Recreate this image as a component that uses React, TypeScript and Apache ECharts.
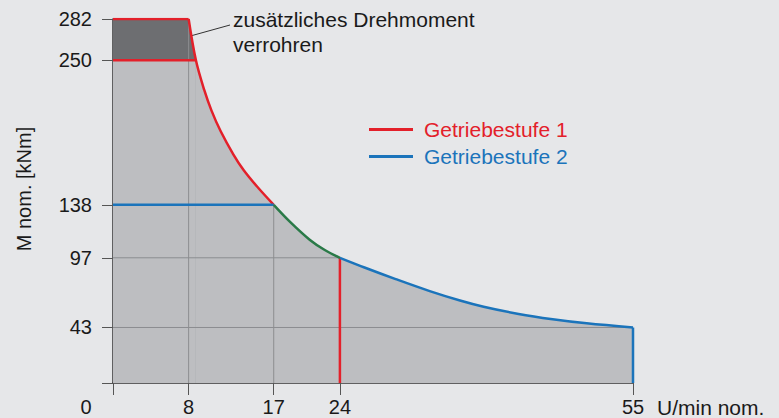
import React, { useEffect, useRef } from "react";
import * as echarts from "echarts";

// Axis ticks / labels
const xTicks = [0, 8, 17, 24, 55];
const yTicks = [0, 43, 97, 138, 250, 282];
const yLabels = [43, 97, 138, 250, 282];

// Torque limits (x: U/min nom., y: M nom. kNm)
const boostTop: number[][] = [[0, 282], [8, 282], [8.77, 250]];
const gear1Base: number[][] = [[0, 250], [8.77, 250]];
const gear1Curve: number[][] = [
  [8, 282], [8.77, 250], [9.65, 227], [10.42, 211], [11.39, 195],
  [12.74, 177], [13.81, 165], [15.26, 152], [17, 138],
];
const overlapCurve: number[][] = [[17, 138], [18.7, 125], [20.8, 111], [22.4, 103], [24, 97]];
const gear2Curve: number[][] = [
  [24, 97], [26.6, 89.5], [29.9, 80.5], [33.5, 71.2], [36.7, 63.9],
  [39.2, 59.1], [42.9, 53.5], [46.5, 49.4], [50.1, 46.2], [55, 43],
];
const gear1Limit: number[][] = [[24, 0], [24, 97]];
const gear2Base: number[][] = [[0, 138], [17, 138]];
const gear2Limit: number[][] = [[55, 43], [55, 0]];
const guideLines: number[][][] = [
  [[8, 0], [8, 282]],
  [[17, 0], [17, 138]],
  [[0, 43], [55, 43]],
  [[0, 97], [24, 97]],
];
const leaderFrom = [6.8, 266];

const BG = "#e6e7e9";
const LIGHT = "#bdbec1";
const DARK = "#6d6e71";
const RED = "#e3202a";
const BLUE = "#1b74bb";
const GREEN = "#2a7a48";
const GRID = "#8c8d90";
const FONT = "Liberation Sans, Arial, sans-serif";

export default function App() {
  const ref = useRef<HTMLDivElement>(null);
  useEffect(() => {
    document.body.style.margin = "0";
    document.body.style.background = BG;
    const chart = echarts.init(ref.current!, null, { renderer: "svg" });
    const line = (name: string, data: number[][], color: string, width: number, extra: any = {}) => ({
      type: "line",
      name,
      data,
      symbol: "none",
      showSymbol: false,
      silent: true,
      lineStyle: { color, width },
      itemStyle: { color },
      ...extra,
    });
    const smooth = { smooth: 0.35 };
    const lightCurve = [...gear1Curve.slice(1), ...overlapCurve.slice(1), ...gear2Curve.slice(1)];
    const series: any[] = [
      line("area-dark", boostTop, DARK, 0, { areaStyle: { color: DARK, opacity: 1 } }),
      line("area-light-base", gear1Base, LIGHT, 0, { areaStyle: { color: LIGHT, opacity: 1 } }),
      line("area-light-curve", lightCurve, LIGHT, 0, { areaStyle: { color: LIGHT, opacity: 1 }, ...smooth }),
      ...guideLines.map((g, i) => line("guide" + i, g, GRID, 1)),
      line("Getriebestufe 1", gear1Curve, RED, 2.5, smooth),
      line("Getriebestufe 1", boostTop.slice(0, 2), RED, 2.5),
      line("Getriebestufe 1", gear1Base, RED, 2.5),
      line("Getriebestufe 1", gear1Limit, RED, 2.5),
      line("Getriebestufe 2", gear2Base, BLUE, 2.5),
      line("Getriebestufe 2", gear2Curve, BLUE, 2.5, smooth),
      line("Getriebestufe 2", gear2Limit, BLUE, 2.5),
      line("overlap", overlapCurve, GREEN, 2.5, smooth),
    ];
    chart.setOption({
      animation: false,
      backgroundColor: BG,
      grid: { left: 113, right: 146, top: 19, bottom: 33 },
      legend: {
        orient: "vertical",
        left: 369,
        top: 119,
        padding: 0,
        itemGap: 6,
        icon: "rect",
        itemWidth: 44,
        itemHeight: 3,
        selectedMode: false,
        textStyle: { fontSize: 21, fontFamily: FONT, padding: [0, 0, 0, 6] },
        data: [
          { name: "Getriebestufe 1", textStyle: { color: RED } },
          { name: "Getriebestufe 2", textStyle: { color: BLUE } },
        ],
      },
      xAxis: {
        type: "value",
        min: 0,
        max: 55,
        name: "U/min nom.",
        nameLocation: "end",
        nameGap: 24,
        nameTextStyle: { fontSize: 21, fontFamily: FONT, color: "#1a1a1a", verticalAlign: "top", padding: [14, 0, 0, 0] },
        axisLine: { show: true, lineStyle: { color: "#333", width: 1.5 } },
        axisTick: { show: true, customValues: xTicks, length: 12, lineStyle: { color: "#555" } },
        axisLabel: {
          customValues: xTicks,
          margin: 14,
          fontSize: 20,
          fontFamily: FONT,
          color: "#1a1a1a",
          formatter: (v: number) => (v === 0 ? "{z|0}" : String(v)),
          rich: { z: { fontSize: 20, fontFamily: FONT, color: "#1a1a1a", padding: [0, 54, 0, 0] } },
        },
        splitLine: { show: false },
      },
      yAxis: {
        type: "value",
        min: 0,
        max: 282,
        name: "M nom. [kNm]",
        nameLocation: "middle",
        nameGap: 79,
        nameTextStyle: { fontSize: 20, fontFamily: FONT, color: "#1a1a1a", padding: [0, 0, 0, 24] },
        axisLine: { show: true, lineStyle: { color: "#333", width: 1.5 } },
        axisTick: { show: true, customValues: yTicks, length: 11, lineStyle: { color: "#555" } },
        axisLabel: { customValues: yLabels, margin: 21, fontSize: 20, fontFamily: FONT, color: "#1a1a1a" },
        splitLine: { show: false },
      },
      series,
    });
    const p = chart.convertToPixel({ gridIndex: 0 }, leaderFrom) as number[];
    chart.setOption({
      graphic: [
        {
          type: "line",
          shape: { x1: p[0], y1: p[1], x2: 230, y2: 25 },
          style: { stroke: "#333", lineWidth: 1 },
          silent: true,
        },
        {
          type: "text",
          left: 233,
          top: 7,
          style: {
            text: "zusätzliches Drehmoment\nverrohren",
            font: `21px ${FONT}`,
            fill: "#1a1a1a",
            lineHeight: 25,
          },
          silent: true,
        },
      ],
    });
    return () => chart.dispose();
  }, []);
  return <div ref={ref} style={{ width: 779, height: 418 }} />;
}
